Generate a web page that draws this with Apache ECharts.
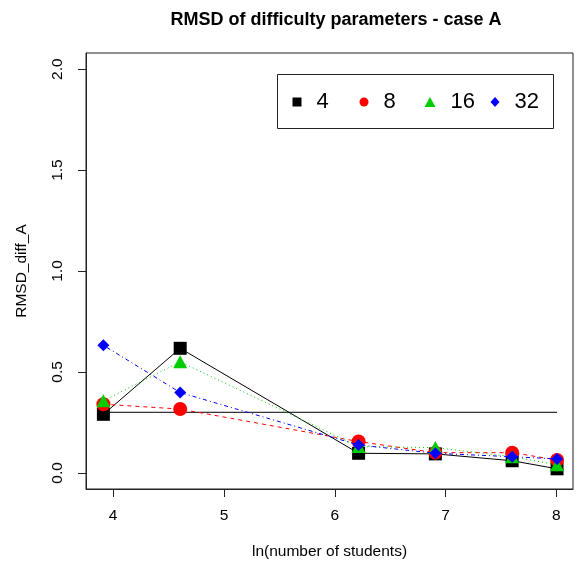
<!DOCTYPE html>
<html>
<head>
<meta charset="utf-8">
<script src="https://cdn.jsdelivr.net/npm/echarts@6/dist/echarts.min.js"></script>
<style>
html,body{margin:0;padding:0;background:#fff;}
#chart{width:581px;height:568px;}
</style>
</head>
<body>
<div id="chart"></div>
<script>
// ln(number of students)
var xValues = [3.912, 4.605, 6.215, 6.908, 7.601, 8.006];
var seriesNames = ['4', '8', '16', '32'];
var s4  = [0.290, 0.617, 0.097, 0.094, 0.060, 0.020];
var s8  = [0.340, 0.316, 0.155, 0.100, 0.100, 0.064];
var s16 = [0.357, 0.550, 0.130, 0.125, 0.080, 0.040];
var s32 = [0.632, 0.398, 0.138, 0.097, 0.080, 0.069];
var refLevel = 0.3;
var refRange = [3.912, 8.006];
var xTicks = [4, 5, 6, 7, 8];
var yTicks = [0, 0.5, 1.0, 1.5, 2.0];

var FONT = "'Liberation Sans', Arial, sans-serif";
function pairs(ys){ return ys.map(function(y,i){ return [xValues[i], y]; }); }

var styles = [
  {color:'#000000', symbol:'rect', size:13, dash:'solid', legIcon:'rect', legW:9, legH:9, legLeft:292.5},
  {color:'#ff0000', symbol:'circle', size:14, dash:[4,4], legIcon:'circle', legW:9, legH:9, legLeft:359.5},
  {color:'#00cd00', symbol:'triangle', size:[14,13], dash:[1,3], legIcon:'triangle', legW:11, legH:10, legLeft:424.5},
  {color:'#0000ff', symbol:'diamond', size:12, dash:[1,3,4,3], legIcon:'diamond', legW:9, legH:10, legLeft:490.5}
];
var allData = [s4, s8, s16, s32];

var series = [{
  name:'ref', type:'line', data:[[refRange[0], refLevel],[refRange[1], refLevel]],
  symbol:'none', silent:true, lineStyle:{color:'#000', width:1}, z:1
}];
allData.forEach(function(d,i){
  var st = styles[i];
  series.push({
    name: seriesNames[i], type:'line', data: pairs(d),
    symbol: st.symbol, symbolSize: st.size, showSymbol:true,
    itemStyle:{color: st.color},
    lineStyle:{color: st.color, width:1, type: st.dash},
    z: 2 + i
  });
});

var legends = seriesNames.map(function(n,i){
  var st = styles[i];
  return {
    data:[{name:n, icon:st.legIcon}],
    left: st.legLeft, top: 91, padding: 0,
    itemWidth: st.legW, itemHeight: st.legH,
    selectedMode:false,
    textStyle:{fontFamily:FONT, fontSize:22, color:'#000', padding:[0,0,0,10]}
  };
});

var chart = echarts.init(document.getElementById('chart'), null, {renderer:'canvas'});
chart.setOption({
  animation:false,
  backgroundColor:'#fff',
  title:{
    text:'RMSD of difficulty parameters - case A',
    left:331, top:6, textAlign:'center',
    textStyle:{fontFamily:FONT, fontSize:18, fontWeight:'bold', color:'#000'}
  },
  legend: legends,
  grid:{left:86, right:8, top:53, bottom:79, show:true, borderColor:'#222', borderWidth:1, backgroundColor:'transparent'},
  xAxis:{
    type:'value', min:3.755, max:8.15,
    name:'ln(number of students)', nameLocation:'middle', nameGap:55,
    nameTextStyle:{fontFamily:FONT, fontSize:15.5, color:'#000'},
    axisLine:{show:true, onZero:false, lineStyle:{color:'#222', width:1}},
    axisTick:{show:true, customValues:xTicks, length:8, lineStyle:{color:'#222'}},
    axisLabel:{show:true, customValues:xTicks, margin:19, fontFamily:FONT, fontSize:15.5, color:'#000'},
    splitLine:{show:false}
  },
  yAxis:{
    type:'value', min:-0.08, max:2.08,
    name:'RMSD_diff_A', nameLocation:'middle', nameGap:56,
    nameTextStyle:{fontFamily:FONT, fontSize:15.5, color:'#000'},
    axisLine:{show:true, onZero:false, lineStyle:{color:'#222', width:1}},
    axisTick:{show:true, customValues:yTicks, length:8, lineStyle:{color:'#222'}},
    axisLabel:{show:true, customValues:yTicks, rotate:90, margin:20, fontFamily:FONT, fontSize:15.5, color:'#000',
      formatter:function(v){ return v.toFixed(1); }},
    splitLine:{show:false}
  },
  graphic:[{
    type:'rect', silent:true, z:100,
    shape:{x:277.5, y:74.5, width:276, height:54},
    style:{fill:'none', stroke:'#222', lineWidth:1}
  }],
  series: series
});
</script>
</body>
</html>
